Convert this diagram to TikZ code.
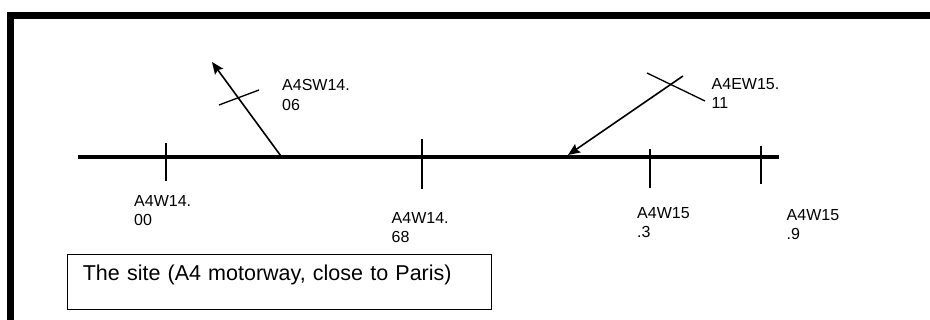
\documentclass[tikz,border=0pt]{standalone}
\usepackage{fontspec}
\setmainfont{Liberation Sans}
\usetikzlibrary{arrows.meta}

\begin{document}
\begin{tikzpicture}
          [x = 1pt, y = -1pt, >= {Stealth[length = 12pt, width = 10pt, inset = 2pt]},
           post/.style = {anchor = north west, inner sep = 0pt, align = left,
                          font = \fontsize{16}{19.2}\selectfont},
           kmpost/.style = {line width = 2pt},
           slip/.style = {->, line width = 1.6pt},
           sitebox/.style = {draw, line width = 1pt, anchor = north west, inner xsep = 15.6pt,
                             inner ysep = 0pt, text width = 392.8pt, align = left,
                             text height = 26pt, text depth = 29pt,
                             font = \fontsize{21.5}{25.8}\selectfont}]
          \useasboundingbox (0,0) rectangle (930,320);
          \draw[line width = 7pt] (10.5,320) -- (10.5,15.5) -- (930,15.5);
          % motorway
          \coordinate (west) at (78,157.5);
          \coordinate (east) at (779,157.5);
          \draw[line width = 4pt] (west) -- (east);
          % posts along the motorway
          \draw[line width = 1.2pt] (166,143) -- (166,181);
          \draw[kmpost] (422,139) -- (422,189);
          \draw[kmpost] (650,149) -- (650,188);
          \draw[kmpost] (761,146) -- (761,184);
          % slip roads
          \coordinate (sw from) at (282,157.5);
          \coordinate (sw to) at (212,62);
          \draw[slip] (sw from) -- (sw to);
          \draw[line width = 1.3pt] (219,105) -- (259,90);
          \coordinate (ew from) at (683,76);
          \coordinate (ew to) at (568,155);
          \draw[slip] (ew from) -- (ew to);
          \draw[line width = 1.3pt] (647,73) -- (705,101);
          % labels
          \node[post] (w1400) at (134,195) {A4W14.\\00};
          \node[post] (sw1406) at (282,79.5) {A4SW14.\\06};
          \node[post] (w1468) at (391.5,212) {A4W14.\\68};
          \node[post] (ew1511) at (711.5,78.5) {A4EW15.\\11};
          \node[post] (w153) at (637,207) {A4W15\\.3};
          \node[post] (w159) at (786.5,209) {A4W15\\.9};
          \node[sitebox] (site) at (66.7,254) {The site (A4 motorway, close to Paris)};
        \end{tikzpicture}
\end{document}
